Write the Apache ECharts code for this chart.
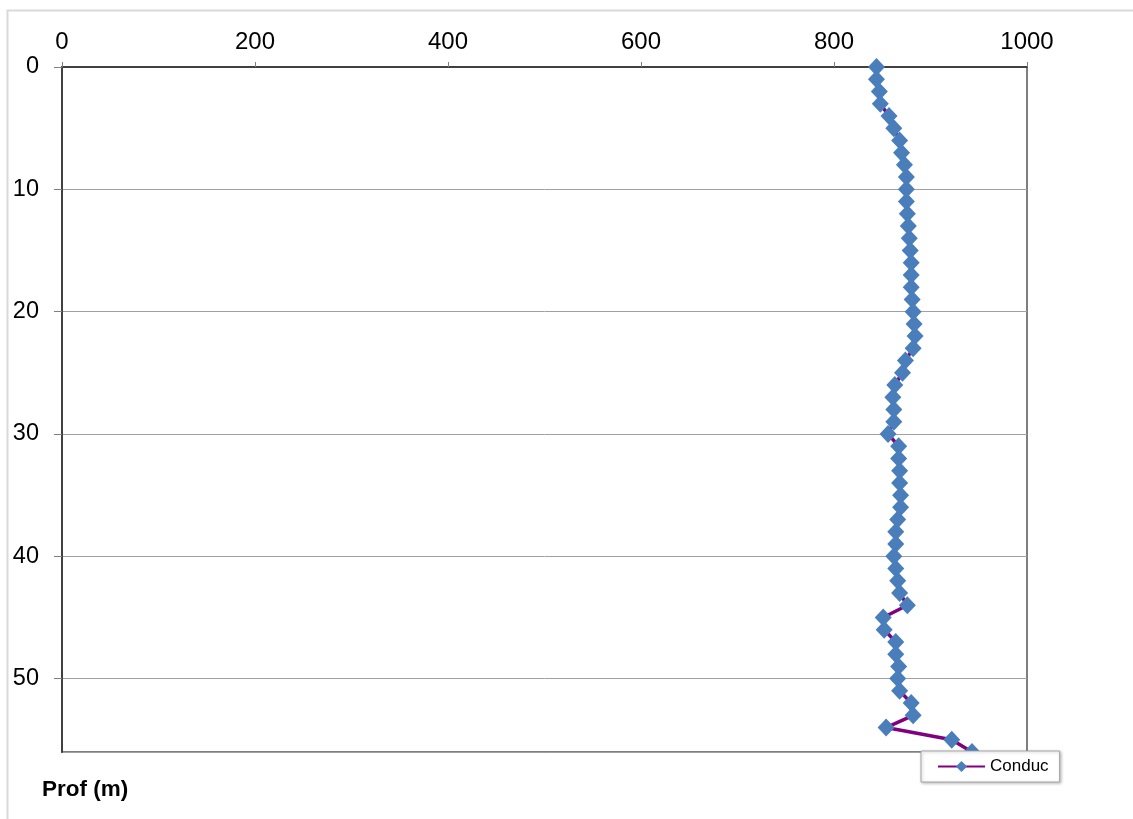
<!DOCTYPE html>
<html>
<head>
<meta charset="utf-8">
<script src="https://cdn.jsdelivr.net/npm/echarts@6/dist/echarts.min.js"></script>
<style>
html,body{margin:0;padding:0;background:#fff;}
#chart{width:1133px;height:819px;}
</style>
</head>
<body>
<div id="chart"></div>
<script>
// Depth (m)
const depths = [0,1,2,3,4,5,6,7,8,9,10,11,12,13,14,15,16,17,18,19,20,21,22,23,24,25,26,27,28,29,30,31,32,33,34,35,36,37,38,39,40,41,42,43,44,45,46,47,48,49,50,51,52,53,54,55,56];
// Conductivity values
const conduc = [844,844,847,848,857,862,868,870,873,875,875,875,876,877,878,879,880,880,880,881,882,883,884,882,874,871,863,861,862,862,856,867,867,868,868,869,869,866,864,864,862,864,866,868,876,851,852,864,864,867,866,868,880,882,854,922,943];
const seriesName = 'Conduc';
const yTitle = 'Prof (m)';

const chart = echarts.init(document.getElementById('chart'), null, {renderer: 'canvas'});
const fontFam = '"Liberation Sans", Arial, sans-serif';

chart.setOption({
  animation: false,
  backgroundColor: '#fff',
  textStyle: {fontFamily: fontFam},
  graphic: [
    {type: 'rect', left: 5, top: 8, shape: {x: 0, y: 0, width: 1200, height: 900},
     style: {fill: 'none', stroke: '#d9d9d9', lineWidth: 2}, z: 0},
    {type: 'text', left: 42, top: 778, style: {text: yTitle, font: 'bold 22.5px ' + fontFam, fill: '#000'}}
  ],
  grid: {left: 62, top: 67, right: 106, bottom: 67, show: true, borderColor: '#7f7f7f', borderWidth: 2, backgroundColor: '#fff'},
  legend: {
    show: true,
    data: [seriesName],
    left: 921, top: 751,
    padding: [7, 11, 7, 16],
    itemWidth: 47, itemHeight: 14,
    backgroundColor: '#fff',
    borderColor: '#a6a6a6', borderWidth: 1,
    shadowBlur: 3, shadowColor: 'rgba(0,0,0,0.25)', shadowOffsetX: 1, shadowOffsetY: 1,
    textStyle: {fontSize: 17, color: '#000', fontFamily: fontFam}
  },
  xAxis: {
    type: 'value', position: 'top', min: 0, max: 1000, interval: 200,
    axisLine: {show: true, lineStyle: {color: '#404040', width: 2}},
    axisTick: {show: true, inside: false, length: 5, lineStyle: {color: '#808080'}},
    axisLabel: {fontSize: 24, color: '#000', margin: 13, fontFamily: fontFam, formatter: v => String(v)},
    splitLine: {show: false}
  },
  yAxis: {
    type: 'value', inverse: true, min: 0, max: 56, interval: 10,
    axisLine: {show: true, lineStyle: {color: '#404040', width: 2}},
    axisTick: {show: true, inside: false, length: 8, lineStyle: {color: '#808080'}},
    axisLabel: {fontSize: 23.5, color: '#000', margin: 23, showMaxLabel: false, fontFamily: fontFam, formatter: v => String(v)},
    splitLine: {show: true, lineStyle: {color: '#a0a0a0', width: 1}}
  },
  series: [{
    name: seriesName,
    type: 'line',
    data: depths.map((d, i) => [conduc[i], d]),
    symbol: 'diamond',
    symbolSize: [17, 18],
    showAllSymbol: true,
    clip: false,
    lineStyle: {color: '#800080', width: 3.5},
    itemStyle: {color: '#4a7ebb', borderWidth: 0},
    z: 2
  }]
});
</script>
</body>
</html>
